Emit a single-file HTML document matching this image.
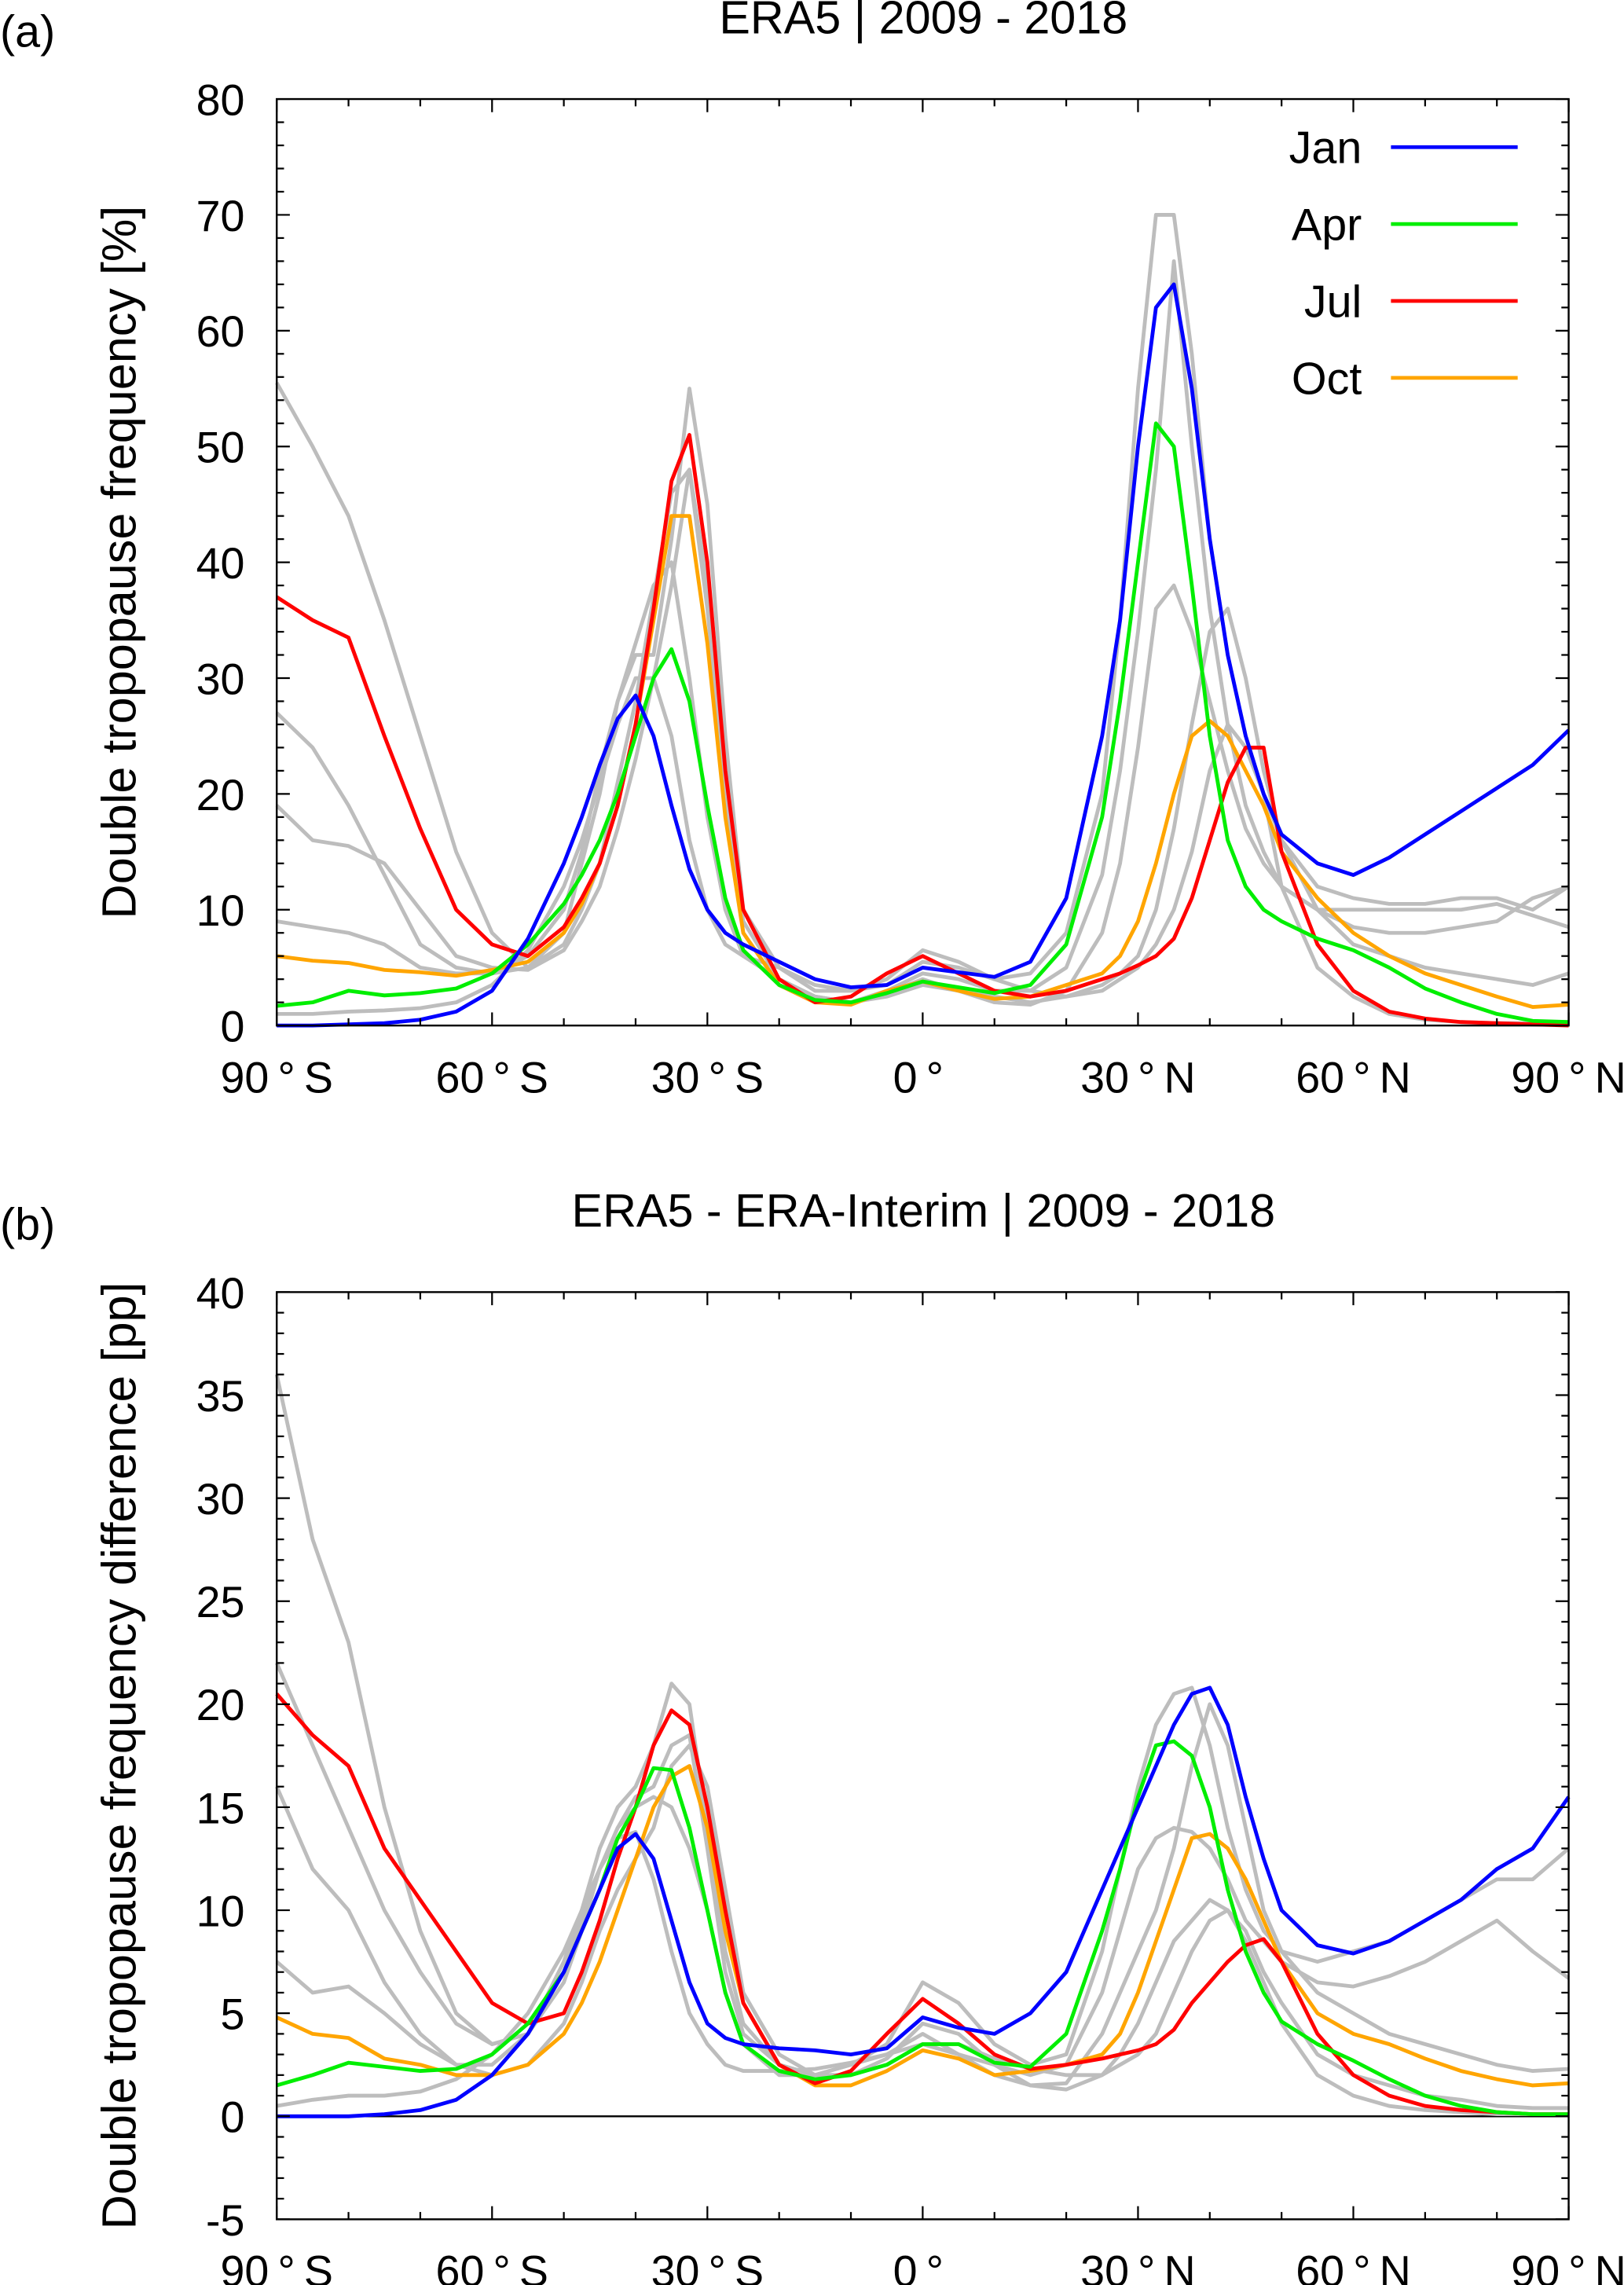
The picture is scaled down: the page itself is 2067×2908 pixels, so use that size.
<!DOCTYPE html>
<html><head><meta charset="utf-8">
<style>
html,body{margin:0;padding:0;background:#fff;}
svg{display:block;}
text{font-family:"Liberation Sans",sans-serif;fill:#000;}
</style></head>
<body>
<svg id="fig" width="2067" height="2908" viewBox="0 0 1115 1568.6" preserveAspectRatio="none" xmlns="http://www.w3.org/2000/svg"></svg>
<script>
const lats = [-90,-85,-80,-75,-70,-65,-60,-55,-50,-47.5,-45,-42.5,-40,-37.5,-35,-32.5,-30,-27.5,-25,-20,-15,-10,-5,0,5,10,15,20,25,27.5,30,32.5,35,37.5,40,42.5,45,47.5,50,55,60,65,70,75,80,85,90];
const xTickLabels = ["90\u00b0S","60\u00b0S","30\u00b0S","0\u00b0","30\u00b0N","60\u00b0N","90\u00b0N"];
const xTickValues = [-90,-60,-30,0,30,60,90];
const yTicksA = [0,10,20,30,40,50,60,70,80];
const yTicksB = [-5,0,5,10,15,20,25,30,35,40];
const legendLabels = ["Jan","Apr","Jul","Oct"];

// Panel (a)
const aJan = [0,0,0.1,0.2,0.5,1.2,3,7.5,14,18,22.5,26.5,28.5,25,19,13.5,10,8,7,5.5,4,3.3,3.5,5,4.6,4.2,5.5,11,25,35,50,62,64,55,42,32,25,20,16.5,14,13,14.5,16.5,18.5,20.5,22.5,25.5];
const aApr = [1.7,2,3,2.6,2.8,3.2,4.5,7,10.5,13,16,20,25,30,32.5,28,19,11,6.5,3.5,2.2,2,2.8,3.8,3.3,2.8,3.5,7,18,28,40,52,50,38,25,16,12,10,9,7.5,6.5,5,3.2,2,1,0.4,0.3];
const aJul = [37,35,33.5,25,17,10,7,6,8.5,11,14,19,26,36,47,51,40,22,10,4,2,2.5,4.5,6,4.5,3,2.5,3,4,4.5,5.2,6,7.5,11,16,21,24,24,15,7,3,1.2,0.6,0.3,0.2,0.1,0];
const aOct = [6,5.6,5.4,4.8,4.6,4.3,4.8,5.5,8,10.5,14,19,26,35,44,44,33,18,8,3.5,2,1.8,3,3.8,3,2.3,2.5,3.5,4.5,6,9,14,20,25,26.3,25,22,19,15,11,8,6,4.5,3.5,2.5,1.6,1.8];
const aGray1 = [55.5,50,44,35,25,15,8,5,8,14,20,28,32,32,42,55,45,25,10,5,3,3,4,6.5,5.5,4,4.5,8,20,35,55,70,70,58,42,32,25,20,16,12,11,10.5,10.5,11,11,10,12];
const aGray2 = [27,24,19,13,7,5,4.5,6,10,15,22,28,33,38,40,30,18,10,6,4,2.5,2,2.5,3.5,3,2,1.8,3,8,14,24,36,38,34,28,22,17,14,12,10,10,10,10,10,10.5,9.5,8.5];
const aGray3 = [19,16,15.5,14,10,6,5,4.8,6.5,9,12,17,23,30,38,48,38,20,8,3.5,2,2,3,4.5,4,3,3,5,13,22,34,48,66,50,36,26,19,15,12,10,8.5,8,8,8.5,9,11,12];
const aGray4 = [9,8.5,8,7,5,4.5,4.5,5,7,10,14,21,28,37,46,48,36,20,9,4,2.5,2,2.8,4,3,2.5,2,2.5,3.5,4.5,6,10,17,26,34,36,30,22,16,10,7,6,5,4.5,4,3.5,4.5];
const aGray5 = [1,1,1.2,1.3,1.5,2,3.5,6.5,12,16,21,26,30,30,25,16,10,7,6,5,3.5,3,3.5,5.5,5,4,3,2.5,3,4,5,7,10,15,22,26,24,20,12,5,2.5,1,0.5,0.3,0.2,0.2,0.2];

// Panel (b)
const bJan = [0,0,0,0.1,0.3,0.8,2,4,7,9,11,13,13.7,12.5,9.5,6.5,4.5,3.8,3.5,3.3,3.2,3,3.3,4.8,4.3,4,5,7,11,13,15,17,19,20.5,20.8,19,15.5,12.5,10,8.3,7.9,8.5,9.5,10.5,12,13,15.5];
const bApr = [1.5,2,2.6,2.4,2.2,2.3,3,4.5,7,9,11,13.5,15,16.9,16.8,14,10,6,3.5,2.2,1.8,2,2.5,3.5,3.5,2.6,2.4,4,9,12,15.5,18,18.2,17.5,15,11,8,6,4.6,3.5,2.7,1.8,1,0.5,0.2,0.1,0.1];
const bJul = [20.5,18.5,17,13,10.5,8,5.5,4.5,5,7,9.5,12.5,15,18,19.7,19,15,10,5.5,2.5,1.6,2.2,4,5.7,4.5,3,2.3,2.5,2.8,3,3.2,3.5,4.2,5.5,6.5,7.5,8.3,8.6,7.5,4,2,1,0.5,0.3,0.2,0.1,0.1];
const bOct = [4.8,4,3.8,2.8,2.5,2,2,2.5,4,5.5,7.5,10,12.5,15,16.5,17,14,9,5.5,2.5,1.5,1.5,2.2,3.2,2.8,2,2.2,2.5,3,4,6,8.5,11,13.5,13.7,13,11.5,9.5,7.5,5,4,3.5,2.8,2.2,1.8,1.5,1.6];
const bGray1 = [36,28,23,15,9,5,3.5,4,7.5,10,13,15,16,18,21,20,14,8,4.5,2.5,2,2.5,3.5,6.5,5.5,3.5,2.5,3,8,12,16,19,20.5,20.8,18,14,11,9,8,7.5,8,8.5,9.5,10.5,11.5,11.5,13];
const bGray2 = [22,18,14,10,7,4.5,3.5,4,6.5,9,12,14,15.5,16,18,18.5,13,7,4,2.5,2,2,2.8,4.5,4,2.5,2,2.5,6,9,12,13.5,14,13.8,13,11.5,9.5,8.5,7.5,6.5,6.3,6.8,7.5,8.5,9.5,8,6.7];
const bGray3 = [16,12,10,6.5,4,2.5,2.5,4,7,9.5,12,14,15,15.5,15,13,10,6,3.5,2,2,2.5,3,4,3,2,1.5,1.6,4,6,8,10,13,17,20,18,14,10,8,6,5,4,3.5,3,2.5,2.2,2.3];
const bGray4 = [7.5,6,6.3,5,3.5,2.5,2,2.5,4.5,6.5,9,11,12.5,14,17,18,16,11,6,3,2,2,2.5,3.5,3,2.5,1.5,1.3,2,3,4.5,6.5,8.5,9.5,10.5,10,9,7,5.5,3,2,1.5,1,0.8,0.5,0.4,0.4];
const bGray5 = [0.5,0.8,1,1,1.2,1.8,3,5,8,10,12,13.5,13.8,11.5,8,5,3.5,2.5,2.2,2.2,2.3,2.6,3,3.5,3.5,2.8,2.3,2,2,2.5,3,4,6,8,9.5,10,8.5,6.5,4.5,2,1,0.5,0.3,0.2,0.1,0.1,0.1];

const NS = "http://www.w3.org/2000/svg";
const svg = document.getElementById('fig');
function mk(tag, attrs, parent){
  const e = document.createElementNS(NS, tag);
  for (const k in attrs) e.setAttribute(k, attrs[k]);
  (parent||svg).appendChild(e);
  return e;
}
const X0 = 190, X1 = 1077;
function xScale(lat){ return X0 + (lat + 90) / 180 * (X1 - X0); }

function panel(cfg){
  const g = mk('g', {});
  
  
  const yScale = v => cfg.bot - (v - cfg.ymin) / (cfg.ymax - cfg.ymin) * (cfg.bot - cfg.top);
  if (cfg.zero) {
    const z = mk('line', {x1:X0, x2:X1, y1:yScale(0), y2:yScale(0), stroke:'#000', 'stroke-width':1.3}, g);
    
    
  }
  const drawSeries = (vals, color, name) => {
    const pts = vals.map((v,i) => xScale(lats[i]).toFixed(2) + ',' + yScale(v).toFixed(2)).join(' ');
    const p = mk('polyline', {points:pts, fill:'none', stroke:color, 'stroke-width':2.6, 'stroke-linejoin':'round'}, g);
    
    
  };
  cfg.grays.forEach((s,i) => drawSeries(s, '#bdbdbd', 'gray-line-' + (i+1)));
  drawSeries(cfg.oct, '#ffa500', 'line-oct');
  drawSeries(cfg.jul, '#ff0000', 'line-jul');
  drawSeries(cfg.apr, '#00ee00', 'line-apr');
  drawSeries(cfg.jan, '#0000ff', 'line-jan');
  const fr = mk('rect', {x:X0, y:cfg.top, width:X1-X0, height:cfg.bot-cfg.top, fill:'none', stroke:'#000', 'stroke-width':1.3}, g);
  
  
  for (let v = cfg.ymin; v <= cfg.ymax + 1e-6; v += cfg.minor) {
    const r = (v - cfg.ymin) % cfg.majorStep;
    const major = Math.abs(r) < 1e-6 || Math.abs(r - cfg.majorStep) < 1e-6;
    const L = major ? 9 : 5;
    const y = yScale(v);
    mk('line', {x1:X0, x2:X0+L, y1:y, y2:y, stroke:'#000', 'stroke-width':1.2}, g);
    mk('line', {x1:X1, x2:X1-L, y1:y, y2:y, stroke:'#000', 'stroke-width':1.2}, g);
  }
  cfg.yticks.forEach(v => {
    const t = mk('text', {x:168, y:yScale(v)+11, 'text-anchor':'end', 'font-size':30}, g);
    t.textContent = String(v);
    
    
  });
  for (let lat = -90; lat <= 90; lat += 10) {
    const major = lat % 30 === 0;
    const L = major ? 9 : 5;
    const x = xScale(lat);
    mk('line', {x1:x, x2:x, y1:cfg.bot, y2:cfg.bot-L, stroke:'#000', 'stroke-width':1.2}, g);
    mk('line', {x1:x, x2:x, y1:cfg.top, y2:cfg.top+L, stroke:'#000', 'stroke-width':1.2}, g);
  }
  xTickValues.forEach((lat,i) => {
    const t = mk('text', {x:xScale(lat), y:cfg.bot+46, 'text-anchor':'middle', 'font-size':30}, g);
    t.textContent = xTickLabels[i].replace('\u00b0', '\u2009\u00b0\u2009');
    
    
  });
  const cy = (cfg.top + cfg.bot) / 2;
  const yt = mk('text', {x:0, y:0, 'text-anchor':'middle', 'font-size':cfg.ytSize, transform:`translate(93,${cy}) rotate(-90)`}, g);
  yt.textContent = cfg.ytitle;
  
  
  const tt = mk('text', {x:634, y:cfg.top-45, 'text-anchor':'middle', 'font-size':32}, g);
  tt.textContent = cfg.title;
  
  
  const pl = mk('text', {x:0, y:cfg.top-36, 'font-size':31}, g);
  pl.textContent = cfg.label;
  
  
  return g;
}

panel({name:'panel-a', top:68, bot:704, ymin:0, ymax:80, minor:2, majorStep:10, yticks:yTicksA, ytSize:33,
  jan:aJan, apr:aApr, jul:aJul, oct:aOct, grays:[aGray1,aGray2,aGray3,aGray4,aGray5],
  ytitle:'Double tropopause frequency [%]', title:'ERA5 | 2009 - 2018', label:'(a)'});
panel({name:'panel-b', top:887, bot:1523.5, ymin:-5, ymax:40, minor:1, majorStep:5, yticks:yTicksB, ytSize:33, zero:true,
  jan:bJan, apr:bApr, jul:bJul, oct:bOct, grays:[bGray1,bGray2,bGray3,bGray4,bGray5],
  ytitle:'Double tropopause frequency difference [pp]', title:'ERA5 - ERA-Interim | 2009 - 2018', label:'(b)'});

const legendColors = ['#0000ff','#00ee00','#ff0000','#ffa500'];
const lg = mk('g', {});


legendLabels.forEach((lab,i) => {
  const y = 101 + i * 52.8;
  const e = mk('g', {}, lg);
  
  
  const t = mk('text', {x:935, y:y+11, 'text-anchor':'end', 'font-size':31}, e);
  t.textContent = lab;
  mk('line', {x1:955, x2:1042, y1:y, y2:y, stroke:legendColors[i], 'stroke-width':2.6}, e);
});
</script>
</body></html>
